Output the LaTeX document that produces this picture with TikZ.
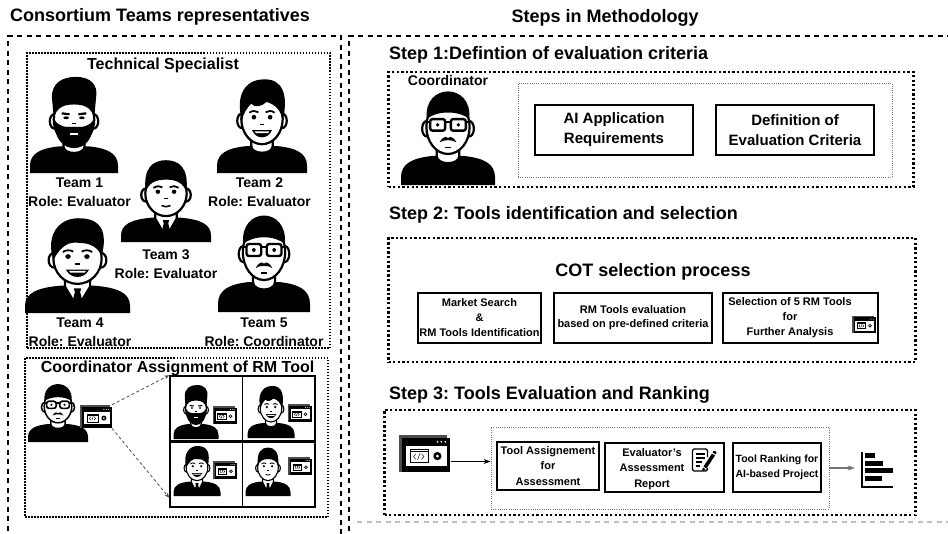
\documentclass[tikz,border=0pt]{standalone}
\usepackage{fontspec}
\setmainfont{Liberation Sans}
\usetikzlibrary{arrows.meta, calc, positioning}

\newcommand{\setfs}[2]{\fontsize{#1}{#2}\selectfont\bfseries}

\tikzset{
  avatar lw/.store in=\avlw,
  avatar lw=2.2,
  facesty/.style={fill=white, draw=black, line width=\avlw},
  part/.style={transform shape},
  pics/tshirt/.style={code={
    \fill (-50,0) -- (-50,8) .. controls (-50,22) and (-38,28) .. (-16,30) -- (16,30)
          .. controls (38,28) and (50,22) .. (50,8) -- (50,0) -- cycle;
    \filldraw[facesty] (-12,42) -- (-12,30) .. controls (-12,20) and (12,20) .. (12,30) -- (12,42);
  }},
  pics/suit/.style={code={
    \fill (-50,0) -- (-50,8) .. controls (-50,22) and (-38,28) .. (-16,30) -- (16,30)
          .. controls (38,28) and (50,22) .. (50,8) -- (50,0) -- cycle;
    \filldraw[facesty] (-12,42) -- (-12,29) -- (0,6) -- (12,29) -- (12,42);
    \fill (-3.5,27) -- (3.5,27) -- (2.5,23) -- (5,12) -- (0,5) -- (-5,12) -- (-2.5,23) -- cycle;
  }},
  pics/head/.style={code={
    \filldraw[facesty] (-22.5,58) ellipse (5 and 8);
    \filldraw[facesty] (22.5,58) ellipse (5 and 8);
    \filldraw[facesty] (0,60) ellipse (23 and 28);
  }},
  pics/dotseyes/.style={code={
    \fill (-9,62) circle (2.6) (9,62) circle (2.6);
    \draw[line width=0.8*\avlw] (-14,67) .. controls (-11,69.5) and (-7,69.5) .. (-4,67.5)
                                (14,67) .. controls (11,69.5) and (7,69.5) .. (4,67.5);
    \draw[line width=0.6*\avlw] (-2,54) -- (2,54);
  }},
  pics/bigsmile/.style={code={
    \filldraw[line width=0.5*\avlw] (-10,47) .. controls (-6,38) and (6,38) .. (10,47) -- cycle;
    \fill[white] (-8,46.2) -- (8,46.2) -- (7,44.4) -- (-7,44.4) -- cycle;
  }},
  pics/bearded/.style={code={
    \pic[part] {tshirt};
    \pic[part] {head};
    \fill (-23,62) -- (-25,84) .. controls (-26,102) and (-12,108) .. (2,108)
          .. controls (18,108) and (28,100) .. (25,84) -- (23,62)
          .. controls (20,72) and (14,77) .. (0,77) .. controls (-14,77) and (-20,72) .. (-23,62) -- cycle;
    \fill (-22,60) .. controls (-23,38) and (-12,28) .. (0,28) .. controls (12,28) and (23,38) .. (22,60)
          .. controls (18,52) and (9,51) .. (0,52) .. controls (-9,51) and (-18,52) .. (-22,60) -- cycle;
    \draw[line width=\avlw] (-14,67) -- (-5,66) (5,66) -- (14,67);
    \fill (-9,62) ellipse (3.2 and 1.6) (9,62) ellipse (3.2 and 1.6);
    \draw[line width=0.6*\avlw] (-2,56) -- (2,56);
    \draw[white, line width=0.8*\avlw] (-5,44) -- (5,44);
  }},
  pics/smiley/.style={code={
    \pic[part] {tshirt};
    \pic[part] {head};
    \fill (-22,58) .. controls (-30,84) and (-20,104) .. (2,104) .. controls (22,105) and (30,88) .. (23,58)
          .. controls (21,70) and (15,76) .. (5,79) .. controls (0,74) and (-8,72) .. (-12,77)
          .. controls (-17,72) and (-21,66) .. (-22,58) -- cycle;
    \pic[part] {dotseyes};
    \pic[part] {bigsmile};
  }},
  pics/suited/.style={code={
    \pic[part] {suit};
    \pic[part] {head};
    \fill (-22.5,62) .. controls (-26,92) and (-14,101) .. (0,101) .. controls (14,101) and (26,92) .. (22.5,62)
          .. controls (19,73) and (12,77) .. (0,77) .. controls (-12,77) and (-19,73) .. (-22.5,62) -- cycle;
    \pic[part] {dotseyes};
    \draw[line width=0.7*\avlw] (-5,45) .. controls (-2,43) and (2,43) .. (5,45);
  }},
  pics/suitsmile/.style={code={
    \pic[part] {suit};
    \pic[part] {head};
    \fill (-23,58) .. controls (-31,88) and (-16,106) .. (4,104) .. controls (22,103) and (29,90) .. (23,62)
          .. controls (20,72) and (12,77) .. (2,77) .. controls (-8,79) and (-16,74) .. (-23,58) -- cycle;
    \pic[part] {dotseyes};
    \pic[part] {bigsmile};
  }},
  pics/glasses/.style={code={
    \pic[part] {tshirt};
    \pic[part] {head};
    \fill (-22.5,68) .. controls (-27,106) and (27,106) .. (22.5,68)
          .. controls (12,77) and (-12,77) .. (-22.5,68) -- cycle;
    \draw[line width=1.1*\avlw, rounded corners=2.5] (-19,56) rectangle (-3,68) (3,56) rectangle (19,68);
    \draw[line width=\avlw] (-3,65) -- (3,65) (-19,65) -- (-23,65) (19,65) -- (23,65);
    \fill (-11,62) circle (2) (11,62) circle (2);
    \fill (-9,44) .. controls (-5,51) and (-1,50) .. (0,48) .. controls (1,50) and (5,51) .. (9,44)
          .. controls (4,47) and (-4,47) .. (-9,44) -- cycle;
    \draw[line width=0.6*\avlw] (-3,39) -- (3,39);
  }},
  pics/toolicon/.style={code={
    \fill[black!70] (-15,-11) rectangle (13,11);
    \fill (-13,-11) rectangle (15,9);
    \fill[white] (-11,-7.5) rectangle (13,4.5);
    \foreach \d in {7.5,9.8,12.1}
      \fill[white] (\d,6.8) circle (0.55);
    \draw[line width=0.5] (-8.5,-5) rectangle (2,2.5) (-8.5,1.2) -- (2,1.2);
    \draw[line width=0.45] (-5,-3.4) -- (-6.4,-1.8) -- (-5,-0.2) (-4,-3.7) -- (-2.7,0.1)
                           (-1.7,-3.4) -- (-0.3,-1.8) -- (-1.7,-0.2);
    \fill (7.5,-1.5) circle (2.4);
    \fill[white] (7.5,-1.5) circle (0.9);
    \node[transform shape, inner sep=0, minimum width=30, minimum height=22] (-frame) at (0,0) {};
  }},
  pics/reportpen/.style={code={
    \draw[line width=1.3, rounded corners=1.5] (5,3) -- (5,11) -- (-10,11) -- (-10,-11) -- (5,-11) -- (5,-8);
    \draw[line width=1.3] (-7,6) -- (2,6) (-7,2) -- (2,2) (-7,-2) -- (-1,-2) (-7,-6) -- (-3,-6);
    \fill (1,-6.5) -- (9.5,6.5) -- (12.5,4.5) -- (4,-8.5) -- cycle;
    \fill (0.4,-7.6) -- (-0.5,-11) -- (3.3,-9.4) -- cycle;
    \fill (10.2,7.6) -- (13.2,5.6) -- (14,7) .. controls (14,8.5) and (12.5,9.5) .. (11,9) -- cycle;
  }}
}

\begin{document}
\frenchspacing
\begin{tikzpicture}
        [x=1pt, y=1pt,
         outerdash/.style={line width=1.6, dash pattern=on 5 off 4.5},
         groupbox/.style={draw, line width=1.5, dash pattern=on 1.5 off 1.5, inner sep=0},
         stepbox/.style={draw, line width=2.3, dash pattern=on 2.3 off 2.3, inner sep=0},
         innerbox/.style={draw=black!55, line width=0.8, dash pattern=on 1 off 1.2, inner sep=0},
         taskbox/.style={draw, line width=1.6, fill=white, align=center, inner sep=0},
         teamlabel/.style={align=center, font={\setfs{14}{19}}},
         steptitle/.style={anchor=west, inner sep=0, font={\setfs{18}{21}}},
         post/.style={->, >={Stealth[length=7pt, width=5pt]}, line width=1},
         assign/.style={-{Stealth[length=5pt, width=4pt]}, black!70, line width=0.8,
                        dash pattern=on 3 off 2.5}]

        \useasboundingbox (0,0) rectangle (948,-533);
        \clip (0,0) rectangle (948,-533);

        \node[anchor=west, inner sep=0, font={\setfs{18}{21}}] (team title) at (10,-17)
                {Consortium Teams representatives};
        \node[font={\setfs{18}{21}}] (method title) at (605,-18) {Steps in Methodology};

        \draw[outerdash] (8,-540) -- (8,-36) -- (341,-36) -- (341,-540);
        \draw[outerdash, line width=2] (349,-540) -- (349,-36) -- (955,-36);
        \draw[outerdash, black!25, line width=1.2] (357,-522) -- (955,-522);

        % team members
        \node[groupbox, minimum width=303, minimum height=295] (spec box) at (178.5,-200.5) {};
        \node[font={\setfs{16}{19}}] (spec title) at (163,-65) {Technical Specialist};

        \pic[xscale=0.88, yscale=0.89] at (74,-173) {bearded};
        \pic[scale=0.9] at (262,-173) {smiley};
        \pic[xscale=0.9, yscale=0.81] at (166,-242) {suited};
        \pic[xscale=1.05, yscale=0.91] at (77.5,-313) {suitsmile};
        \pic[xscale=0.92, yscale=1] at (264,-312) {glasses};

        \node[teamlabel] (team1) at (79.5,-192.5) {Team 1\\Role: Evaluator};
        \node[teamlabel] (team2) at (259.5,-192.5) {Team 2\\Role: Evaluator};
        \node[teamlabel] (team3) at (166,-264) {Team 3\\Role: Evaluator};
        \node[teamlabel] (team4) at (80,-332) {Team 4\\Role: Evaluator};
        \node[teamlabel] (team5) at (264,-332) {Team 5\\Role: Coordinator};

        % tool handed out by the coordinator
        \node[groupbox, minimum width=303, minimum height=159] (assign box) at (176.5,-437.5) {};
        \node[font={\setfs{16}{19}}] (assign title) at (177.5,-368) {Coordinator Assignment of RM Tool};

        \node[draw, line width=1.5, minimum width=145, minimum height=131, inner sep=0] (grid)
                at (242.5,-441.5) {};
        \draw[line width=1.5] (grid.north) -- (grid.south);
        \draw[line width=3] (grid.west) -- (grid.east);

        \begin{scope}[avatar lw=1.5]
                \pic[scale=0.6] at (58,-442) {glasses};
        \end{scope}
        \begin{scope}[avatar lw=1.1]
                \pic[xscale=0.45, yscale=0.5] at (196,-439) {bearded};
                \pic[xscale=0.47, yscale=0.5] at (271,-438) {smiley};
                \pic[xscale=0.47, yscale=0.48] at (197,-496) {suitsmile};
                \pic[xscale=0.45, yscale=0.48] at (268,-496) {suited};
        \end{scope}
        \pic[scale=1.05] (assign tool) at (96,-416.5) {toolicon};
        \pic[scale=0.8] at (224.5,-415) {toolicon};
        \pic[scale=0.8] at (299.5,-413) {toolicon};
        \pic[scale=0.8] at (225,-470) {toolicon};
        \pic[scale=0.8] at (300,-466) {toolicon};

        \draw[assign] (assign tool-frame.north east) -- (grid.north west);
        \draw[assign] (assign tool-frame.south east) -- ([yshift=10]grid.south west);

        % step 1
        \node[steptitle] (step1 title) at (389,-55) {Step 1:Defintion of evaluation criteria};
        \node[stepbox, minimum width=525, minimum height=115] (step1 box) at (651,-129.5) {};
        \node[font={\setfs{14}{16}}] (coord label) at (448,-80) {Coordinator};
        \pic[xscale=0.94, yscale=0.97] at (448,-185) {glasses};
        \node[innerbox, minimum width=374, minimum height=94] (step1 inner) at (705,-130) {};
        \node[taskbox, minimum width=158, minimum height=50, font={\setfs{15}{20}}] (ai req)
                at (614,-130) {AI Application\\Requirements};
        \node[taskbox, minimum width=158, minimum height=50, font={\setfs{15}{20}}] (criteria def)
                at (795,-130) {Definition of\\Evaluation Criteria};

        % step 2
        \node[steptitle] (step2 title) at (389,-215) {Step 2: Tools identification and selection};
        \node[stepbox, minimum width=527, minimum height=124] (step2 box) at (652,-300) {};
        \node[font={\setfs{18}{21}}] (cot title) at (653,-272) {COT selection process};
        \node[taskbox, minimum width=123, minimum height=50, font={\setfs{11}{15}}] (market)
                at (479.5,-318) {Market Search\\\&\\RM Tools Identification};
        \node[taskbox, minimum width=158, minimum height=50, font={\setfs{11}{14}}] (rm eval)
                at (633,-318) {RM Tools evaluation\\based on pre-defined criteria};
        \node[taskbox, minimum width=155, minimum height=50] (select box) at (800.5,-318) {};
        \node[align=center, inner sep=0, font={\setfs{11}{15}}] (select text) at (790,-318)
                {Selection of 5 RM Tools\\for\\Further Analysis};
        \pic[scale=0.8] at (864,-324.5) {toolicon};

        % step 3
        \node[steptitle] (step3 title) at (389,-395) {Step 3: Tools Evaluation and Ranking};
        \node[stepbox, minimum width=531, minimum height=105] (step3 box) at (650,-462.5) {};
        \node[innerbox, minimum width=338, minimum height=82] (step3 inner) at (660,-468) {};
        \pic[scale=1.72] (code tool) at (424.5,-453.5) {toolicon};
        \draw[post] ([yshift=-8]code tool-frame.east) -- ([yshift=-8]code tool-frame.east -| step3 inner.west);

        \node[taskbox, minimum width=102, minimum height=48, font={\setfs{11}{15.5}}] (tool assign)
                at (548,-466) {Tool Assignement\\for\\Assessment};
        \node[taskbox, minimum width=119, minimum height=49] (report box) at (664.5,-467.5) {};
        \node[align=center, inner sep=0, font={\setfs{11}{15.5}}] (report text) at (652,-469)
                {Evaluator's\\Assessment\\Report};
        \pic at (702.5,-460) {reportpen};
        \node[taskbox, minimum width=88, minimum height=49, font={\setfs{10.5}{15}}] (ranking)
                at (777,-467.5) {Tool Ranking for\\AI-based Project};

        \node[minimum width=32, minimum height=36, inner sep=0] (chart) at (877,-470) {};
        \draw[line width=2] ([shift={(1,36)}]chart.south west) |- ([shift={(32,1)}]chart.south west);
        \foreach \y/\l in {30/10, 22.5/18, 15/28, 7/17}
                \fill ([shift={(4,\y)}]chart.south west) rectangle ++(\l,5);
        \draw[post, black!55, line width=1.3, shorten >=6] (step3 inner.east) -- (step3 inner.east -| chart.west);
\end{tikzpicture}
\end{document}
